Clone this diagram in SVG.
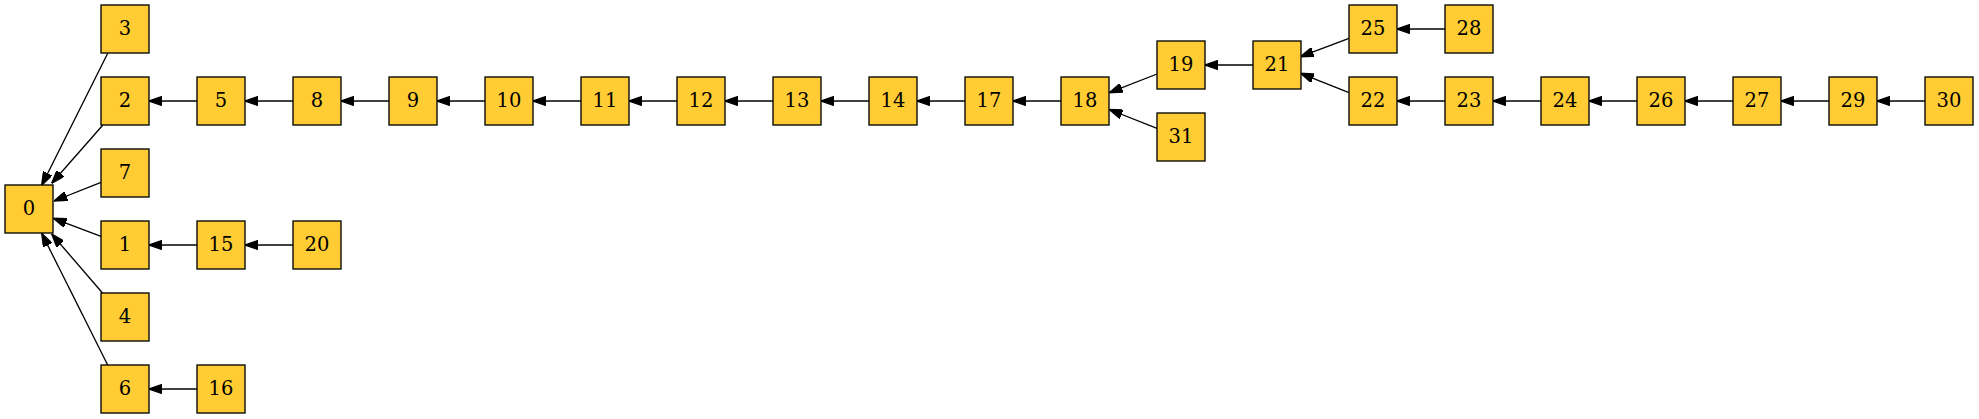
<svg xmlns="http://www.w3.org/2000/svg" width="1979" height="419" viewBox="0 0 1979 419">
<style>
.n rect{fill:#ffcd33;stroke:#000;stroke-width:1.33}
.n text{font-family:"DejaVu Serif","Liberation Serif",serif;font-size:19.5px;text-anchor:middle;fill:#000}
#edges line{stroke:#000;stroke-width:1.33;marker-end:url(#ah)}
</style>
<defs>
<marker id="ah" viewBox="0 0 10 7" refX="10" refY="3.5" markerWidth="13.3" markerHeight="9.3" markerUnits="userSpaceOnUse" orient="auto">
<path d="M0,0 L10,3.5 L0,7 Z" fill="#000" stroke="#000" stroke-width="1"/>
</marker>
</defs>
<rect width="1979" height="419" fill="#fff"/>
<g id="edges">
<line x1="107.7" y1="53.3" x2="41.7" y2="185.3"/>
<line x1="102.7" y1="125.3" x2="51.7" y2="183.3"/>
<line x1="101" y1="182.3" x2="54" y2="201"/>
<line x1="101" y1="236.3" x2="53.3" y2="218.3"/>
<line x1="102.7" y1="293.3" x2="51.7" y2="234"/>
<line x1="107.7" y1="365" x2="41.7" y2="233.3"/>
<line x1="197" y1="101" x2="149" y2="101"/>
<line x1="293" y1="101" x2="245" y2="101"/>
<line x1="389" y1="101" x2="341" y2="101"/>
<line x1="485" y1="101" x2="437" y2="101"/>
<line x1="581" y1="101" x2="533" y2="101"/>
<line x1="677" y1="101" x2="629" y2="101"/>
<line x1="773" y1="101" x2="725" y2="101"/>
<line x1="869" y1="101" x2="821" y2="101"/>
<line x1="965" y1="101" x2="917" y2="101"/>
<line x1="1061" y1="101" x2="1013" y2="101"/>
<line x1="1157" y1="74" x2="1109.3" y2="92.7"/>
<line x1="1157" y1="128.3" x2="1109.3" y2="109.5"/>
<line x1="1253" y1="65" x2="1205" y2="65"/>
<line x1="1349" y1="38.3" x2="1300.5" y2="56.7"/>
<line x1="1349" y1="92.7" x2="1300.5" y2="73.3"/>
<line x1="1445" y1="29" x2="1397" y2="29"/>
<line x1="1445" y1="101" x2="1397" y2="101"/>
<line x1="1541" y1="101" x2="1493" y2="101"/>
<line x1="1637" y1="101" x2="1589" y2="101"/>
<line x1="1733" y1="101" x2="1685" y2="101"/>
<line x1="1829" y1="101" x2="1781" y2="101"/>
<line x1="1925" y1="101" x2="1877" y2="101"/>
<line x1="197" y1="245" x2="149" y2="245"/>
<line x1="293" y1="245" x2="245" y2="245"/>
<line x1="197" y1="389" x2="149" y2="389"/>
</g>
<g id="n0" class="n"><rect x="5" y="185" width="48" height="48"/><text x="29" y="215">0</text></g>
<g id="n3" class="n"><rect x="101" y="5" width="48" height="48"/><text x="125" y="35">3</text></g>
<g id="n2" class="n"><rect x="101" y="77" width="48" height="48"/><text x="125" y="107">2</text></g>
<g id="n7" class="n"><rect x="101" y="149" width="48" height="48"/><text x="125" y="179">7</text></g>
<g id="n1" class="n"><rect x="101" y="221" width="48" height="48"/><text x="125" y="251">1</text></g>
<g id="n4" class="n"><rect x="101" y="293" width="48" height="48"/><text x="125" y="323">4</text></g>
<g id="n6" class="n"><rect x="101" y="365" width="48" height="48"/><text x="125" y="395">6</text></g>
<g id="n5" class="n"><rect x="197" y="77" width="48" height="48"/><text x="221" y="107">5</text></g>
<g id="n15" class="n"><rect x="197" y="221" width="48" height="48"/><text x="221" y="251">15</text></g>
<g id="n16" class="n"><rect x="197" y="365" width="48" height="48"/><text x="221" y="395">16</text></g>
<g id="n8" class="n"><rect x="293" y="77" width="48" height="48"/><text x="317" y="107">8</text></g>
<g id="n20" class="n"><rect x="293" y="221" width="48" height="48"/><text x="317" y="251">20</text></g>
<g id="n9" class="n"><rect x="389" y="77" width="48" height="48"/><text x="413" y="107">9</text></g>
<g id="n10" class="n"><rect x="485" y="77" width="48" height="48"/><text x="509" y="107">10</text></g>
<g id="n11" class="n"><rect x="581" y="77" width="48" height="48"/><text x="605" y="107">11</text></g>
<g id="n12" class="n"><rect x="677" y="77" width="48" height="48"/><text x="701" y="107">12</text></g>
<g id="n13" class="n"><rect x="773" y="77" width="48" height="48"/><text x="797" y="107">13</text></g>
<g id="n14" class="n"><rect x="869" y="77" width="48" height="48"/><text x="893" y="107">14</text></g>
<g id="n17" class="n"><rect x="965" y="77" width="48" height="48"/><text x="989" y="107">17</text></g>
<g id="n18" class="n"><rect x="1061" y="77" width="48" height="48"/><text x="1085" y="107">18</text></g>
<g id="n19" class="n"><rect x="1157" y="41" width="48" height="48"/><text x="1181" y="71">19</text></g>
<g id="n31" class="n"><rect x="1157" y="113" width="48" height="48"/><text x="1181" y="143">31</text></g>
<g id="n21" class="n"><rect x="1253" y="41" width="48" height="48"/><text x="1277" y="71">21</text></g>
<g id="n25" class="n"><rect x="1349" y="5" width="48" height="48"/><text x="1373" y="35">25</text></g>
<g id="n22" class="n"><rect x="1349" y="77" width="48" height="48"/><text x="1373" y="107">22</text></g>
<g id="n28" class="n"><rect x="1445" y="5" width="48" height="48"/><text x="1469" y="35">28</text></g>
<g id="n23" class="n"><rect x="1445" y="77" width="48" height="48"/><text x="1469" y="107">23</text></g>
<g id="n24" class="n"><rect x="1541" y="77" width="48" height="48"/><text x="1565" y="107">24</text></g>
<g id="n26" class="n"><rect x="1637" y="77" width="48" height="48"/><text x="1661" y="107">26</text></g>
<g id="n27" class="n"><rect x="1733" y="77" width="48" height="48"/><text x="1757" y="107">27</text></g>
<g id="n29" class="n"><rect x="1829" y="77" width="48" height="48"/><text x="1853" y="107">29</text></g>
<g id="n30" class="n"><rect x="1925" y="77" width="48" height="48"/><text x="1949" y="107">30</text></g>
</svg>
